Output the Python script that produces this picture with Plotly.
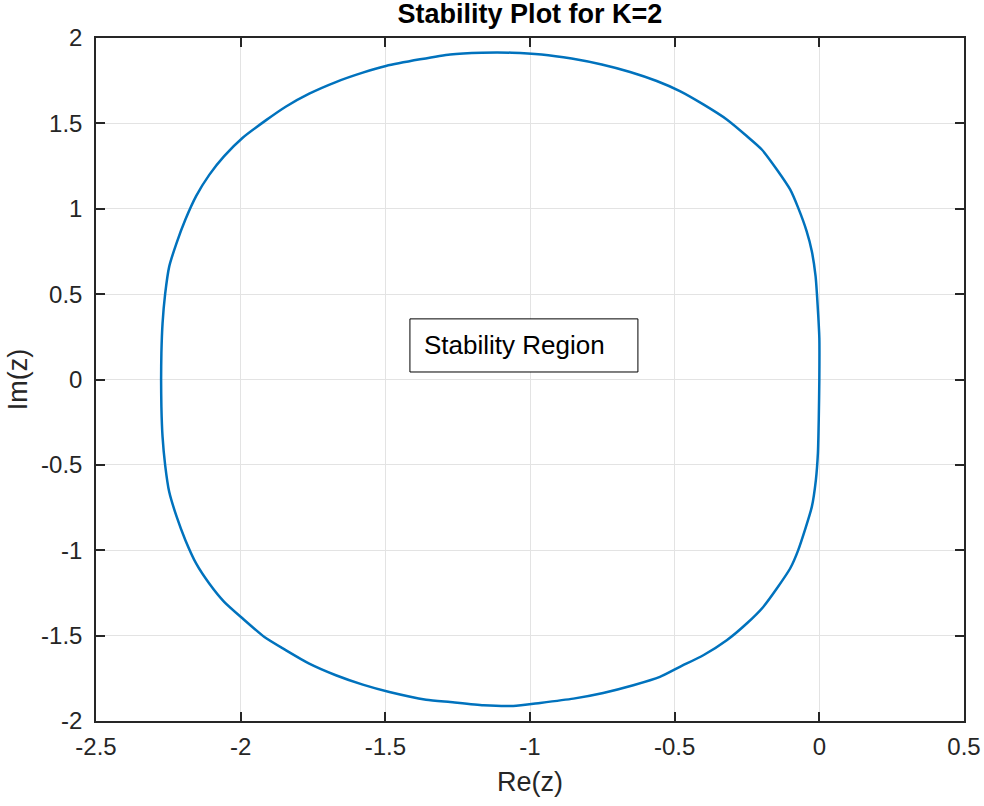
import plotly.graph_objects as go

# Boundary of the stability region (Re, Im)
re_top = [0.000, 0.000, -0.006, -0.013, -0.026, -0.044, -0.073, -0.101, -0.147, -0.199,
          -0.251, -0.320, -0.401, -0.482, -0.562, -0.654, -0.752, -0.856, -0.960, -1.063,
          -1.167, -1.276, -1.380, -1.498, -1.578, -1.671, -1.763, -1.843, -1.912, -1.993,
          -2.057, -2.108, -2.154, -2.191, -2.221, -2.247, -2.261, -2.270, -2.274, -2.275]
im_top = [0.000, 0.243, 0.438, 0.605, 0.751, 0.869, 1.005, 1.113, 1.230, 1.347,
          1.426, 1.523, 1.611, 1.689, 1.748, 1.801, 1.845, 1.880, 1.904, 1.914,
          1.914, 1.904, 1.875, 1.836, 1.797, 1.742, 1.674, 1.599, 1.519, 1.416,
          1.308, 1.200, 1.074, 0.937, 0.802, 0.661, 0.501, 0.329, 0.154, 0.000]
re_bot = [-2.274, -2.270, -2.261, -2.247, -2.221, -2.191, -2.154, -2.108, -2.057, -1.993,
          -1.918, -1.843, -1.763, -1.671, -1.578, -1.486, -1.359, -1.276, -1.161, -1.058,
          -0.965, -0.850, -0.747, -0.643, -0.551, -0.482, -0.401, -0.320, -0.251, -0.194,
          -0.147, -0.101, -0.073, -0.026, -0.012, -0.005, -0.002, 0.000]
im_bot = [-0.159, -0.335, -0.501, -0.658, -0.805, -0.941, -1.077, -1.196, -1.302, -1.400,
          -1.508, -1.586, -1.664, -1.732, -1.787, -1.830, -1.875, -1.889, -1.908, -1.912,
          -1.894, -1.869, -1.836, -1.791, -1.742, -1.683, -1.615, -1.527, -1.429, -1.332,
          -1.224, -1.107, -0.999, -0.746, -0.589, -0.433, -0.237, 0.000]

x_ticks = [-2.5, -2, -1.5, -1, -0.5, 0, 0.5]
x_tick_labels = ["-2.5", "-2", "-1.5", "-1", "-0.5", "0", "0.5"]
y_ticks = [-2, -1.5, -1, -0.5, 0, 0.5, 1, 1.5, 2]
y_tick_labels = ["-2", "-1.5", "-1", "-0.5", "0", "0.5", "1", "1.5", "2"]

re_all = re_top + re_bot
im_all = im_top + im_bot

fig = go.Figure()
fig.add_trace(go.Scatter(x=re_all, y=im_all, mode="lines",
                         line=dict(color="#0072BD", width=2.5, shape="spline", smoothing=0.6),
                         showlegend=False, hoverinfo="skip"))

font_main = "Liberation Sans, Arial, sans-serif"
axis_common = dict(showline=True, linecolor="#262626", linewidth=1.5, mirror="ticks",
                   ticks="inside", ticklen=9, tickwidth=1.5, tickcolor="#262626",
                   showgrid=True, gridcolor="#e3e3e3", gridwidth=1, zeroline=False,
                   automargin=False,
                   tickfont=dict(family=font_main, size=24, color="#262626"))

fig.update_layout(
    width=984, height=806,
    margin=dict(l=96, r=20, t=38, b=85),
    paper_bgcolor="white", plot_bgcolor="white",
    title=dict(text="<b>Stability Plot for K=2</b>", x=530 / 984, xanchor="center",
               y=1.0, yanchor="top", pad=dict(t=4),
               font=dict(family=font_main, size=27, color="black")),
    xaxis=dict(range=[-2.5, 0.5], tickvals=x_ticks, ticktext=x_tick_labels,
               ticklabelstandoff=3,
               title=dict(text="Re(z)", font=dict(family=font_main, size=27, color="#262626"), standoff=14),
               **axis_common),
    yaxis=dict(range=[-2, 2], tickvals=y_ticks, ticktext=y_tick_labels,
               ticklabelstandoff=7,
               title=dict(text="Im(z)", font=dict(family=font_main, size=27, color="#262626"), standoff=6),
               **axis_common),
)

fig.add_shape(type="rect", xref="x", yref="y", x0=-1.415, x1=-0.627, y0=0.044, y1=0.355,
              line=dict(color="black", width=1), fillcolor="white", layer="above")
fig.add_annotation(x=-1.375, y=0.2, xref="x", yref="y", text="Stability Region",
                   showarrow=False, xanchor="left", yanchor="middle",
                   font=dict(family=font_main, size=26, color="black"))

fig.write_html("out.html", config={"displayModeBar": False},
               post_script="document.body.style.margin='0';")
